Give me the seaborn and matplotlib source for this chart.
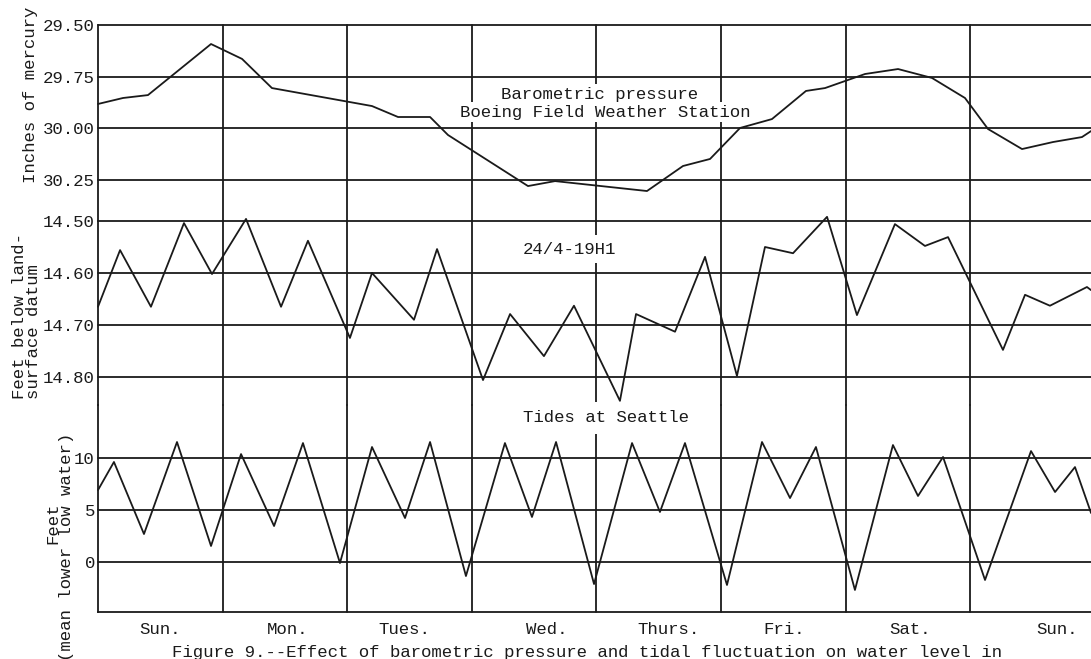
import matplotlib
matplotlib.use('Agg')
import matplotlib.pyplot as plt
import seaborn as sns
import pandas as pd

# ---------------- data ----------------
baro_day = [0.0, 0.201, 0.401, 0.907, 1.156, 1.396, 2.199, 2.408, 2.665, 2.809,
            3.451, 3.668, 4.406, 4.695, 4.912, 5.153, 5.409, 5.682, 5.835, 6.156,
            6.421, 6.693, 6.958, 7.143, 7.416, 7.665, 7.897, 7.970]
baro_inhg = [29.882, 29.853, 29.839, 29.592, 29.664, 29.805, 29.892, 29.945, 29.945, 30.032,
             30.279, 30.255, 30.303, 30.182, 30.148, 29.998, 29.955, 29.819, 29.805, 29.737,
             29.713, 29.756, 29.853, 30.003, 30.100, 30.066, 30.042, 30.013]

well_day = [0.0, 0.177, 0.425, 0.690, 0.915, 1.188, 1.469, 1.685, 2.022, 2.199,
            2.536, 2.721, 3.090, 3.307, 3.579, 3.820, 4.189, 4.318, 4.631, 4.872,
            5.128, 5.353, 5.578, 5.851, 6.091, 6.396, 6.637, 6.822, 7.263, 7.440,
            7.640, 7.937, 7.970]
well_ft = [14.665, 14.556, 14.665, 14.504, 14.602, 14.496, 14.665, 14.538, 14.725, 14.600,
           14.690, 14.554, 14.806, 14.679, 14.760, 14.663, 14.846, 14.679, 14.713, 14.569,
           14.798, 14.550, 14.562, 14.492, 14.681, 14.506, 14.548, 14.531, 14.748, 14.642,
           14.663, 14.627, 14.633]

tide_day = [0.0, 0.128, 0.369, 0.634, 0.907, 1.148, 1.413, 1.645, 1.942, 2.199,
            2.464, 2.665, 2.953, 3.266, 3.483, 3.676, 3.981, 4.286, 4.510, 4.711,
            5.048, 5.329, 5.554, 5.762, 6.075, 6.380, 6.581, 6.782, 7.119, 7.488,
            7.681, 7.841, 7.970]
tide_ft = [6.92, 9.62, 2.69, 11.54, 1.54, 10.38, 3.46, 11.44, -0.10, 11.06,
           4.23, 11.54, -1.35, 11.44, 4.33, 11.54, -2.12, 11.44, 4.81, 11.44,
           -2.21, 11.54, 6.15, 11.06, -2.69, 11.25, 6.35, 10.10, -1.73, 10.67,
           6.73, 9.13, 4.71]

day_names = ['Sun.', 'Mon.', 'Tues.', 'Wed.', 'Thurs.', 'Fri.', 'Sat.', 'Sun.']
day_label_pos = [0.50, 1.52, 2.46, 3.60, 4.58, 5.51, 6.52, 7.70]
day_bounds = [1, 2, 3, 4, 5, 6, 7]

baro_ticks = [29.50, 29.75, 30.00, 30.25]
baro_labels = ['29.50', '29.75', '30.00', '30.25']
well_ticks = [14.50, 14.60, 14.70, 14.80]
well_labels = ['14.50', '14.60', '14.70', '14.80']
tide_ticks = [0, 5, 10]
tide_labels = ['0', '5', '10']

# ---------------- style ----------------
sns.set_theme(style='white')
plt.rcParams['font.family'] = ['Liberation Mono', 'DejaVu Sans Mono']
INK = '#1a1a1a'
FS = 12.5
LW = 1.3

W, H = 1091, 659
fig = plt.figure(figsize=(W / 100, H / 100), dpi=100)
fig.patch.set_facecolor('white')


def fx(x):
    return x / W


def fy(y):
    return 1 - y / H


X0, DAYPX = 98, 124.6
xmax = (W - X0) / DAYPX


def make_ax(top_px, bot_px):
    ax = fig.add_axes([fx(X0), fy(bot_px), 1 - fx(X0), (bot_px - top_px) / H])
    ax.set_xlim(0, xmax)
    for s in ax.spines.values():
        s.set_visible(False)
    ax.spines['left'].set_visible(True)
    ax.spines['left'].set_color(INK)
    ax.spines['left'].set_linewidth(LW)
    ax.set_xticks([])
    ax.tick_params(axis='y', length=0, pad=2.2, labelsize=FS, labelcolor=INK)
    ax.set_xlabel('')
    ax.set_ylabel('')
    ax.patch.set_alpha(0)
    for d in day_bounds:
        ax.axvline(d, color=INK, lw=LW, zorder=1)
    return ax


# Barometric pressure
ax1 = make_ax(25, 221)
sns.lineplot(x=baro_day, y=baro_inhg, ax=ax1, sort=False, estimator=None,
             color=INK, lw=LW, zorder=3)
ax1.set_ylim(30.448, 29.50)
ax1.set_yticks(baro_ticks)
ax1.set_yticklabels(baro_labels)
for t in baro_ticks:
    ax1.axhline(t, color=INK, lw=LW, zorder=1, clip_on=False)

# Well level
ax2 = make_ax(221, 405)
sns.lineplot(x=well_day, y=well_ft, ax=ax2, sort=False, estimator=None,
             color=INK, lw=LW, zorder=3)
ax2.set_ylim(14.854, 14.50)
ax2.set_yticks(well_ticks)
ax2.set_yticklabels(well_labels)
for t in well_ticks:
    ax2.axhline(t, color=INK, lw=LW, zorder=1, clip_on=False)

# Tides
ax3 = make_ax(405, 612)
sns.lineplot(x=tide_day, y=tide_ft, ax=ax3, sort=False, estimator=None,
             color=INK, lw=LW, zorder=3)
ax3.set_ylim(-4.81, 15.10)
ax3.set_yticks(tide_ticks)
ax3.set_yticklabels(tide_labels)
for t in tide_ticks:
    ax3.axhline(t, color=INK, lw=LW, zorder=1)
ax3.spines['bottom'].set_visible(True)
ax3.spines['bottom'].set_color(INK)
ax3.spines['bottom'].set_linewidth(LW)
ax3.set_xticks(day_label_pos)
ax3.set_xticklabels(day_names)
ax3.tick_params(axis='x', length=0, pad=7, labelsize=FS, labelcolor=INK)

for a in (ax1, ax2, ax3):
    for ln in a.get_lines():
        ln.set_clip_on(False)

# ---------------- in-plot labels ----------------
box = dict(facecolor='white', edgecolor='none', pad=1.5)
fig.text(fx(600), fy(94), 'Barometric pressure', ha='center', va='center',
         fontsize=FS, color=INK, bbox=box)
fig.text(fx(605), fy(112), 'Boeing Field Weather Station', ha='center', va='center',
         fontsize=FS, color=INK, bbox=box)
fig.text(fx(569), fy(249), '24/4-19H1', ha='center', va='center',
         fontsize=FS, color=INK, bbox=dict(facecolor='white', edgecolor='none', pad=5))
fig.text(fx(606), fy(418), 'Tides at Seattle', ha='center', va='center',
         fontsize=FS, color=INK, bbox=dict(facecolor='white', edgecolor='none', pad=6))

# ---------------- axis titles ----------------
fig.text(fx(31), fy(95), 'Inches of mercury', rotation=90, ha='center', va='center',
         fontsize=FS, color=INK)
fig.text(fx(20), fy(399), 'Feet below land-', rotation=90, ha='center', va='bottom',
         fontsize=FS, color=INK)
fig.text(fx(34), fy(399), 'surface datum', rotation=90, ha='center', va='bottom',
         fontsize=FS, color=INK)
fig.text(fx(53), fy(523), 'Feet', rotation=90, ha='center', va='center',
         fontsize=FS, color=INK)
fig.text(fx(66), fy(547), '(mean lower low water)', rotation=90, ha='center', va='center',
         fontsize=FS, color=INK)

# ---------------- caption ----------------
fig.text(fx(172), fy(652),
         'Figure 9.--Effect of barometric pressure and tidal fluctuation on water level in',
         ha='left', va='center', fontsize=FS, color=INK)

fig.savefig('out.png', dpi=100, facecolor='white')
